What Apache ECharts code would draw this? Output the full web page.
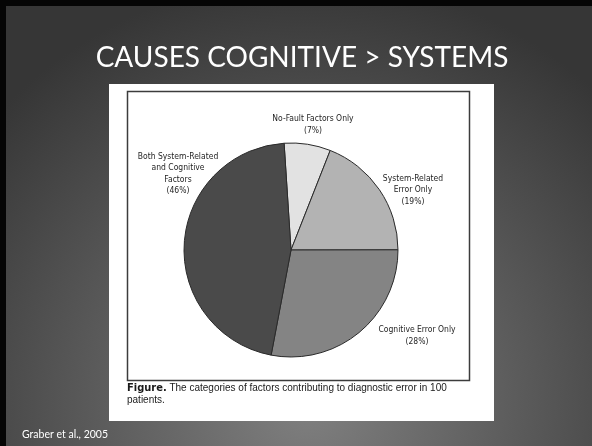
<!DOCTYPE html>
<html>
<head>
<meta charset="utf-8">
<script src="https://cdn.jsdelivr.net/npm/echarts@6/dist/echarts.min.js"></script>
<style>
html,body{margin:0;padding:0;background:#000;}
#chart{width:592px;height:446px;}
</style>
</head>
<body>
<div id="chart"></div>
<script>
const titleText = 'CAUSES COGNITIVE > SYSTEMS';
const sourceText = 'Graber et al., 2005';
const categories = ['No-Fault Factors Only', 'System-Related\nError Only', 'Cognitive Error Only', 'Both System-Related\nand Cognitive\nFactors'];
const values = [7, 19, 28, 46];
const sliceColors = ['#e2e2e2', '#b3b3b3', '#848484', '#4a4a4a'];
const captionBold = 'Figure.';
const captionRest = ' The categories of factors contributing to diagnostic error in 100';
const captionLine2 = 'patients.';

// label anchor positions (layout only)
const labelPos = [[313, 125], [413, 190], [417, 336], [178, 174]];
const narrow = "'Liberation Sans Narrow','DejaVu Sans Condensed','Liberation Sans',sans-serif";

const chart = echarts.init(document.getElementById('chart'), null, {renderer: 'canvas'});
const option = {
  animation: false,
  backgroundColor: {
    type: 'radial', x: 0.52, y: 0.9, r: 0.95,
    colorStops: [{offset: 0, color: '#808080'}, {offset: 1, color: '#363636'}]
  },
  graphic: [
    {type: 'rect', shape: {x: 0, y: 0, width: 592, height: 6}, style: {fill: '#050505'}, z: 0},
    {type: 'rect', shape: {x: 0, y: 0, width: 6, height: 446}, style: {fill: '#050505'}, z: 0},
    {type: 'rect', shape: {x: 109, y: 84, width: 385, height: 337}, style: {fill: '#ffffff'}, z: 0},
    {type: 'rect', shape: {x: 127.5, y: 91.5, width: 342, height: 289}, style: {fill: 'none', stroke: '#3c3c3c', lineWidth: 1.5}, z: 1},
    {type: 'text', x: 302, y: 58, style: {text: titleText, fill: '#ffffff', font: '28px Lato', align: 'center', verticalAlign: 'middle'}, z: 5},
    {type: 'text', x: 22, y: 435, style: {text: sourceText, fill: '#ffffff', font: '10.5px Lato', align: 'left', verticalAlign: 'middle'}, z: 5},
    {type: 'text', x: 127, y: 394, style: {
      text: '{b|' + captionBold + '}{r|' + captionRest + '}\n{r|' + captionLine2 + '}',
      align: 'left', verticalAlign: 'middle', lineHeight: 12,
      rich: {
        b: {fontFamily: narrow, fontWeight: 'bold', fontSize: 11, fill: '#1a1a1a', lineHeight: 12},
        r: {fontFamily: 'Liberation Sans', fontSize: 10, fill: '#1a1a1a', lineHeight: 12}
      }
    }, z: 5}
  ],
  series: [{
    type: 'pie',
    center: [291, 250],
    radius: 107,
    startAngle: 93.7,
    clockwise: true,
    silent: true,
    data: categories.map((c, i) => ({name: c, value: values[i], itemStyle: {color: sliceColors[i]}})),
    itemStyle: {borderColor: '#2a2a2a', borderWidth: 1},
    label: {
      show: true,
      position: 'outside',
      formatter: p => p.name + '\n(' + p.value + '%)',
      fontFamily: narrow,
      fontSize: 8.5,
      lineHeight: 11.5,
      color: '#1e1e1e',
      align: 'center'
    },
    labelLine: {show: false},
    labelLayout: p => ({x: labelPos[p.dataIndex][0], y: labelPos[p.dataIndex][1], align: 'center', verticalAlign: 'middle'})
  }]
};
chart.setOption(option);
</script>
</body>
</html>
